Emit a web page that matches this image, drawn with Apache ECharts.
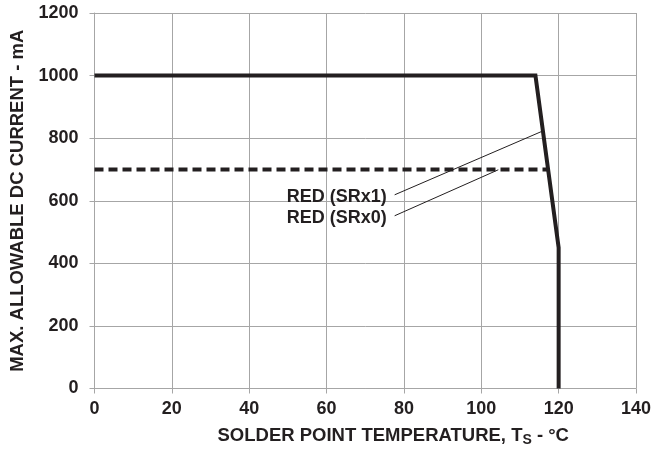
<!DOCTYPE html>
<html>
<head>
<meta charset="utf-8">
<script src="https://cdn.jsdelivr.net/npm/echarts@6/dist/echarts.min.js"></script>
<style>
  html, body { margin: 0; padding: 0; background: #fff; }
  #chart { width: 668px; height: 454px; }
</style>
</head>
<body>
<div id="chart"></div>
<script>
// Derating curves: maximum allowable DC current vs. solder point temperature
const xTicks = [0, 20, 40, 60, 80, 100, 120, 140];
const yTicks = [0, 200, 400, 600, 800, 1000, 1200];

// RED (SRx1): flat at 1000 mA, steep fall to 450 mA at 120 °C, then cut off
const srx1Temp = [0, 114, 120, 120];
const srx1Current = [1000, 1000, 450, 0];

// RED (SRx0): flat at 700 mA until it meets the SRx1 curve
const srx0Temp = [0, 117.3];
const srx0Current = [700, 700];

// Curve labels and their leader lines (label anchor -> point on curve)
const curveLabels = ['RED (SRx1)', 'RED (SRx0)'];
const leaderTemp = [[77.6, 115.9], [77.6, 104.4]];
const leaderCurrent = [[619, 823], [552, 699]];

const ink = '#231f20';
const gridGray = '#a6a6a6';
const font = 'Liberation Sans, Arial, Helvetica, sans-serif';

const zip = (xs, ys) => xs.map((x, i) => [x, ys[i]]);

const chart = echarts.init(document.getElementById('chart'), null, { renderer: 'canvas' });

chart.setOption({
  animation: false,
  backgroundColor: '#ffffff',
  grid: { left: 94.5, right: 32, top: 13, bottom: 65.5, containLabel: false },
  xAxis: {
    type: 'value',
    min: xTicks[0],
    max: xTicks[xTicks.length - 1],
    interval: xTicks[1] - xTicks[0],
    name: '{a|SOLDER POINT TEMPERATURE, T}{s|S}{a| - °C}',
    nameLocation: 'middle',
    nameGap: 38,
    nameTextStyle: {
      padding: [0, 0, 0, 56],
      rich: {
        a: { fontFamily: font, fontWeight: 'bold', fontSize: 18.5, color: ink, lineHeight: 19, verticalAlign: 'top' },
        s: { fontFamily: font, fontWeight: 'bold', fontSize: 14, color: ink, lineHeight: 14, verticalAlign: 'top', padding: [7, 0, 0, 0] }
      }
    },
    axisLine: { show: true, lineStyle: { color: gridGray, width: 1 } },
    axisTick: { show: true, inside: false, length: 5, lineStyle: { color: gridGray } },
    axisLabel: { margin: 12, fontFamily: font, fontWeight: 'bold', fontSize: 18, color: ink, formatter: v => String(v) },
    splitLine: { show: true, lineStyle: { color: gridGray, width: 1 } }
  },
  yAxis: {
    type: 'value',
    min: yTicks[0],
    max: yTicks[yTicks.length - 1],
    interval: yTicks[1] - yTicks[0],
    name: 'MAX. ALLOWABLE DC CURRENT - mA',
    nameLocation: 'middle',
    nameGap: 66,
    nameTextStyle: { fontFamily: font, fontWeight: 'bold', fontSize: 18.5, color: ink },
    axisLine: { show: true, lineStyle: { color: gridGray, width: 1 } },
    axisTick: { show: true, inside: false, length: 5, lineStyle: { color: gridGray } },
    axisLabel: { margin: 16, fontFamily: font, fontWeight: 'bold', fontSize: 18, color: ink, formatter: v => String(v) },
    splitLine: { show: true, lineStyle: { color: gridGray, width: 1 } }
  },
  series: [
    {
      name: 'leader SRx1',
      type: 'line',
      data: zip(leaderTemp[0], leaderCurrent[0]),
      showSymbol: false,
      symbol: 'none',
      lineStyle: { color: ink, width: 1 },
      z: 3
    },
    {
      name: 'leader SRx0',
      type: 'line',
      data: zip(leaderTemp[1], leaderCurrent[1]),
      showSymbol: false,
      symbol: 'none',
      lineStyle: { color: ink, width: 1 },
      z: 3
    },
    {
      name: 'RED (SRx0)',
      type: 'line',
      data: zip(srx0Temp, srx0Current),
      showSymbol: false,
      symbol: 'none',
      lineStyle: { color: ink, width: 4, type: [9, 5], cap: 'butt' },
      z: 4
    },
    {
      name: 'RED (SRx1)',
      type: 'line',
      data: zip(srx1Temp, srx1Current),
      showSymbol: false,
      symbol: 'none',
      lineStyle: { color: ink, width: 4, join: 'miter' },
      z: 5
    },
    {
      name: 'curve labels',
      type: 'scatter',
      symbolSize: 0,
      itemStyle: { color: ink, opacity: 1 },
      data: curveLabels.map((t, i) => ({ value: [leaderTemp[i][0], leaderCurrent[i][0]], name: t })),
      label: {
        show: true,
        position: 'left',
        distance: 8,
        offset: [0, 2],
        formatter: p => p.name,
        fontFamily: font,
        fontWeight: 'bold',
        fontSize: 18,
        color: ink,
        opacity: 1
      },
      z: 6
    }
  ]
});
</script>
</body>
</html>
